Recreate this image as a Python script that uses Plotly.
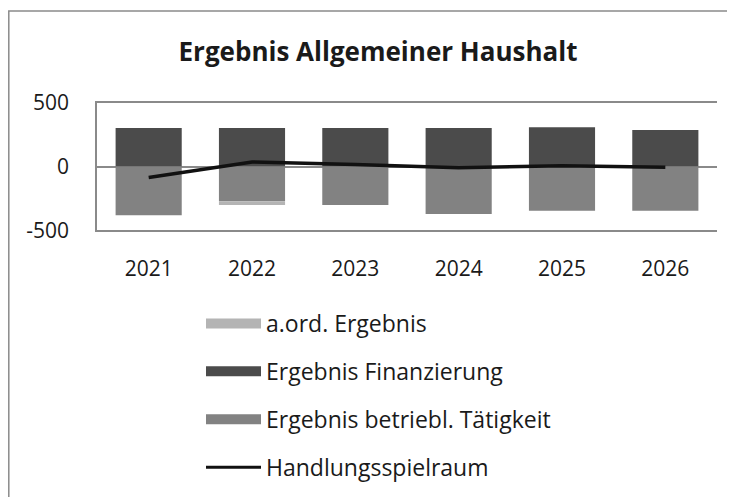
import plotly.graph_objects as go

years = ["2021", "2022", "2023", "2024", "2025", "2026"]
aord_ergebnis = [0, -30, 0, 0, 0, 0]
ergebnis_finanzierung = [300, 300, 300, 300, 305, 285]
ergebnis_betrieb = [-380, -270, -300, -370, -345, -345]
handlungsspielraum = [-85, 35, 15, -10, 5, -5]
y_ticks = [-500, 0, 500]
y_ticktext = ["-500", "0", "500"]

names = ["a.ord. Ergebnis", "Ergebnis Finanzierung", "Ergebnis betriebl. Tätigkeit", "Handlungsspielraum"]
c_aord = "#b4b4b4"
c_fin = "#4b4b4b"
c_bet = "#828282"
c_line = "#111111"

# the page body adds an 8px offset; figure coordinates are screen - 8
W, H = 727, 489
L, R, T, B = 89, 18, 93, 265
FONT = "Open Sans"

fig = go.Figure()
fig.add_trace(go.Bar(x=years, y=ergebnis_finanzierung, name=names[1], marker_color=c_fin,
                     marker_line_width=0, showlegend=False, legendgroup="fin"))
fig.add_trace(go.Bar(x=years, y=ergebnis_betrieb, name=names[2], marker_color=c_bet,
                     marker_line_width=0, showlegend=False, legendgroup="bet"))
fig.add_trace(go.Bar(x=years, y=aord_ergebnis, name=names[0], marker_color=c_aord,
                     marker_line_width=0, showlegend=False, legendgroup="aord"))
fig.add_trace(go.Scatter(x=years, y=handlungsspielraum, name=names[3], mode="lines",
                         line=dict(color=c_line, width=3.5), showlegend=False, legendgroup="hs"))

# legend entries (wide rectangles like the original)
for nm, col, grp, w in [(names[0], c_aord, "aord", 12), (names[1], c_fin, "fin", 12),
                        (names[2], c_bet, "bet", 12), (names[3], c_line, "hs", 3)]:
    fig.add_trace(go.Scatter(x=[None], y=[None], mode="lines", name=nm, legendgroup=grp,
                             line=dict(color=col, width=w), showlegend=True, hoverinfo="skip"))

# chart-area border
px = lambda v: (v - L) / (W - L - R)
py = lambda v: (H - B - v) / (H - T - B)
fig.add_shape(type="rect", xref="paper", yref="paper",
              x0=px(0.8), x1=px(760), y0=py(520), y1=py(3),
              line=dict(color="#8a8a8a", width=1.5), fillcolor="rgba(0,0,0,0)", layer="below")

fig.update_layout(
    width=W, height=H,
    margin=dict(l=L, r=R, t=T, b=B, autoexpand=False),
    barmode="relative",
    bargap=0.36,
    paper_bgcolor="white",
    plot_bgcolor="white",
    font=dict(family=FONT, color="#1a1a1a"),
    title=dict(text="<b>Ergebnis Allgemeiner Haushalt</b>", x=370 / W, xanchor="center",
               y=1 - 44 / H, yanchor="middle", xref="container", yref="container",
               font=dict(family=FONT, size=26, color="#1a1a1a")),
    legend=dict(xref="container", yref="container", x=193 / W, y=1 - 294 / H,
                xanchor="left", yanchor="top", orientation="v",
                font=dict(family=FONT, size=23, color="#1a1a1a"),
                itemwidth=55, tracegroupgap=15, bgcolor="rgba(0,0,0,0)"),
    xaxis=dict(showgrid=False, showline=False, ticks="", ticklabelstandoff=22,
               tickangle=0,
               tickfont=dict(family=FONT, size=21, color="#1a1a1a")),
    yaxis=dict(range=[-510, 510], tickvals=y_ticks, ticktext=y_ticktext, showgrid=True,
               gridcolor="#8a8a8a", gridwidth=1.5, zeroline=True, zerolinecolor="#8a8a8a",
               zerolinewidth=1.5, showline=True, linecolor="#8a8a8a", linewidth=1.5,
               ticks="", ticklabelstandoff=22,
               tickfont=dict(family=FONT, size=21, color="#1a1a1a")),
)

fig.write_html("out.html")
